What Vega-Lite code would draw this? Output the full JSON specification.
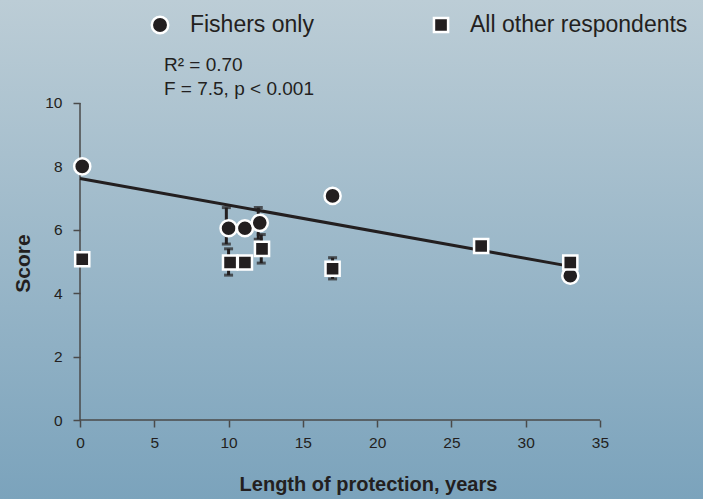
{
  "$schema": "https://vega.github.io/schema/vega-lite/v6.json",
  "width": 703,
  "height": 499,
  "autosize": {"type": "none"},
  "padding": 0,
  "background": "#9fbacb",
  "view": {
    "stroke": null,
    "fill": {"gradient": "linear", "x1": 0, "y1": 0, "x2": 0, "y2": 1,
      "stops": [{"offset": 0, "color": "#bccdd6"}, {"offset": 1, "color": "#7ba3bc"}]}
  },
  "config": {
    "font": "Liberation Sans",
    "axis": {"grid": false, "domain": false, "tickColor": "#4a4a4a", "tickWidth": 1.5, "tickSize": 7,
      "labelFont": "Liberation Sans", "labelFontSize": 15.5, "labelColor": "#231f20",
      "titleFont": "Liberation Sans", "titleFontWeight": "bold", "titleColor": "#231f20"}
  },
  "datasets": {
    "points": [
      {"years": 0.15, "score": 8.0, "group": "Fishers only"},
      {"years": 10.0, "score": 6.05, "group": "Fishers only"},
      {"years": 11.1, "score": 6.05, "group": "Fishers only"},
      {"years": 12.1, "score": 6.22, "group": "Fishers only"},
      {"years": 17.0, "score": 7.07, "group": "Fishers only"},
      {"years": 33.0, "score": 4.55, "group": "Fishers only"},
      {"years": 0.15, "score": 5.07, "group": "All other respondents"},
      {"years": 10.1, "score": 4.97, "group": "All other respondents"},
      {"years": 11.1, "score": 4.97, "group": "All other respondents"},
      {"years": 12.25, "score": 5.4, "group": "All other respondents"},
      {"years": 17.0, "score": 4.77, "group": "All other respondents"},
      {"years": 27.0, "score": 5.49, "group": "All other respondents"},
      {"years": 33.0, "score": 4.97, "group": "All other respondents"}
    ],
    "errors": [
      {"years": 9.85, "lo": 5.55, "hi": 6.7},
      {"years": 12.0, "lo": 5.7, "hi": 6.7},
      {"years": 10.0, "lo": 4.57, "hi": 5.4},
      {"years": 12.2, "lo": 4.95, "hi": 5.85},
      {"years": 17.0, "lo": 4.45, "hi": 5.12}
    ],
    "fit": [
      {"years": 0, "score": 7.62},
      {"years": 33.2, "score": 4.83}
    ],
    "one": [{}]
  },
  "layer": [
    {
      "data": {"name": "points"},
      "mark": {"type": "point", "filled": true, "opacity": 0},
      "encoding": {
        "x": {"field": "years", "type": "quantitative",
          "scale": {"domain": [-5.385, 41.933], "nice": false, "zero": false},
          "axis": {"orient": "bottom", "offset": -79, "values": [0, 5, 10, 15, 20, 25, 30, 35], "labelPadding": 8,
            "title": "Length of protection, years", "titleFontSize": 20, "titlePadding": 24, "titleX": 368}},
        "y": {"field": "score", "type": "quantitative",
          "scale": {"domain": [-2.492, 13.249], "nice": false, "zero": false},
          "axis": {"orient": "left", "offset": -80, "values": [0, 2, 4, 6, 8, 10], "labelPadding": 11,
            "title": "Score", "titleFontSize": 21, "titlePadding": 11, "titleY": 263}}
      }
    },
    {
      "data": {"name": "one"},
      "mark": {"type": "rule", "color": "#4a4a4a", "strokeWidth": 1.5},
      "encoding": {
        "x": {"datum": 0, "type": "quantitative"},
        "x2": {"datum": 35},
        "y": {"datum": 0, "type": "quantitative"}
      }
    },
    {
      "data": {"name": "one"},
      "mark": {"type": "rule", "color": "#4a4a4a", "strokeWidth": 1.5},
      "encoding": {
        "x": {"datum": 0, "type": "quantitative"},
        "y": {"datum": 0, "type": "quantitative"},
        "y2": {"datum": 10}
      }
    },
    {
      "data": {"name": "fit"},
      "mark": {"type": "line", "color": "#231f20", "strokeWidth": 3},
      "encoding": {
        "x": {"field": "years", "type": "quantitative"},
        "y": {"field": "score", "type": "quantitative"}
      }
    },
    {
      "data": {"name": "errors"},
      "mark": {"type": "errorbar", "color": "#231f20", "thickness": 3, "ticks": {"size": 9, "thickness": 3, "color": "#231f20"}},
      "encoding": {
        "x": {"field": "years", "type": "quantitative", "title": "Length of protection, years"},
        "y": {"field": "lo", "type": "quantitative", "title": "Score"},
        "y2": {"field": "hi"}
      }
    },
    {
      "data": {"name": "points"},
      "mark": {"type": "point", "filled": true, "fill": "#231f20", "stroke": "white", "strokeWidth": 2.5, "opacity": 1},
      "encoding": {
        "x": {"field": "years", "type": "quantitative"},
        "y": {"field": "score", "type": "quantitative"},
        "shape": {"field": "group", "type": "nominal",
          "scale": {"domain": ["Fishers only", "All other respondents"], "range": ["circle", "square"]},
          "legend": null},
        "size": {"field": "group", "type": "nominal",
          "scale": {"domain": ["Fishers only", "All other respondents"], "range": [260, 200]},
          "legend": null}
      }
    },
    {
      "data": {"name": "one"},
      "mark": {"type": "point", "shape": "circle", "size": 270, "filled": true, "fill": "#231f20", "stroke": "white", "strokeWidth": 2.5, "opacity": 1},
      "encoding": {
        "x": {"datum": 5.385, "type": "quantitative"},
        "y": {"datum": 12.46, "type": "quantitative"}
      }
    },
    {
      "data": {"name": "one"},
      "mark": {"type": "text", "align": "left", "baseline": "middle", "fontSize": 23, "color": "#231f20"},
      "encoding": {
        "x": {"datum": 7.4, "type": "quantitative"},
        "y": {"datum": 12.46, "type": "quantitative"},
        "text": {"value": "Fishers only"}
      }
    },
    {
      "data": {"name": "one"},
      "mark": {"type": "point", "shape": "square", "size": 200, "filled": true, "fill": "#231f20", "stroke": "white", "strokeWidth": 2.5, "opacity": 1},
      "encoding": {
        "x": {"datum": 24.3, "type": "quantitative"},
        "y": {"datum": 12.46, "type": "quantitative"}
      }
    },
    {
      "data": {"name": "one"},
      "mark": {"type": "text", "align": "left", "baseline": "middle", "fontSize": 23, "color": "#231f20"},
      "encoding": {
        "x": {"datum": 26.25, "type": "quantitative"},
        "y": {"datum": 12.46, "type": "quantitative"},
        "text": {"value": "All other respondents"}
      }
    },
    {
      "data": {"name": "one"},
      "mark": {"type": "text", "align": "left", "baseline": "middle", "fontSize": 19, "color": "#231f20"},
      "encoding": {
        "x": {"datum": 5.65, "type": "quantitative"},
        "y": {"datum": 11.2, "type": "quantitative"},
        "text": {"value": "R² = 0.70"}
      }
    },
    {
      "data": {"name": "one"},
      "mark": {"type": "text", "align": "left", "baseline": "middle", "fontSize": 19, "color": "#231f20"},
      "encoding": {
        "x": {"datum": 5.65, "type": "quantitative"},
        "y": {"datum": 10.45, "type": "quantitative"},
        "text": {"value": "F = 7.5, p < 0.001"}
      }
    }
  ]
}
